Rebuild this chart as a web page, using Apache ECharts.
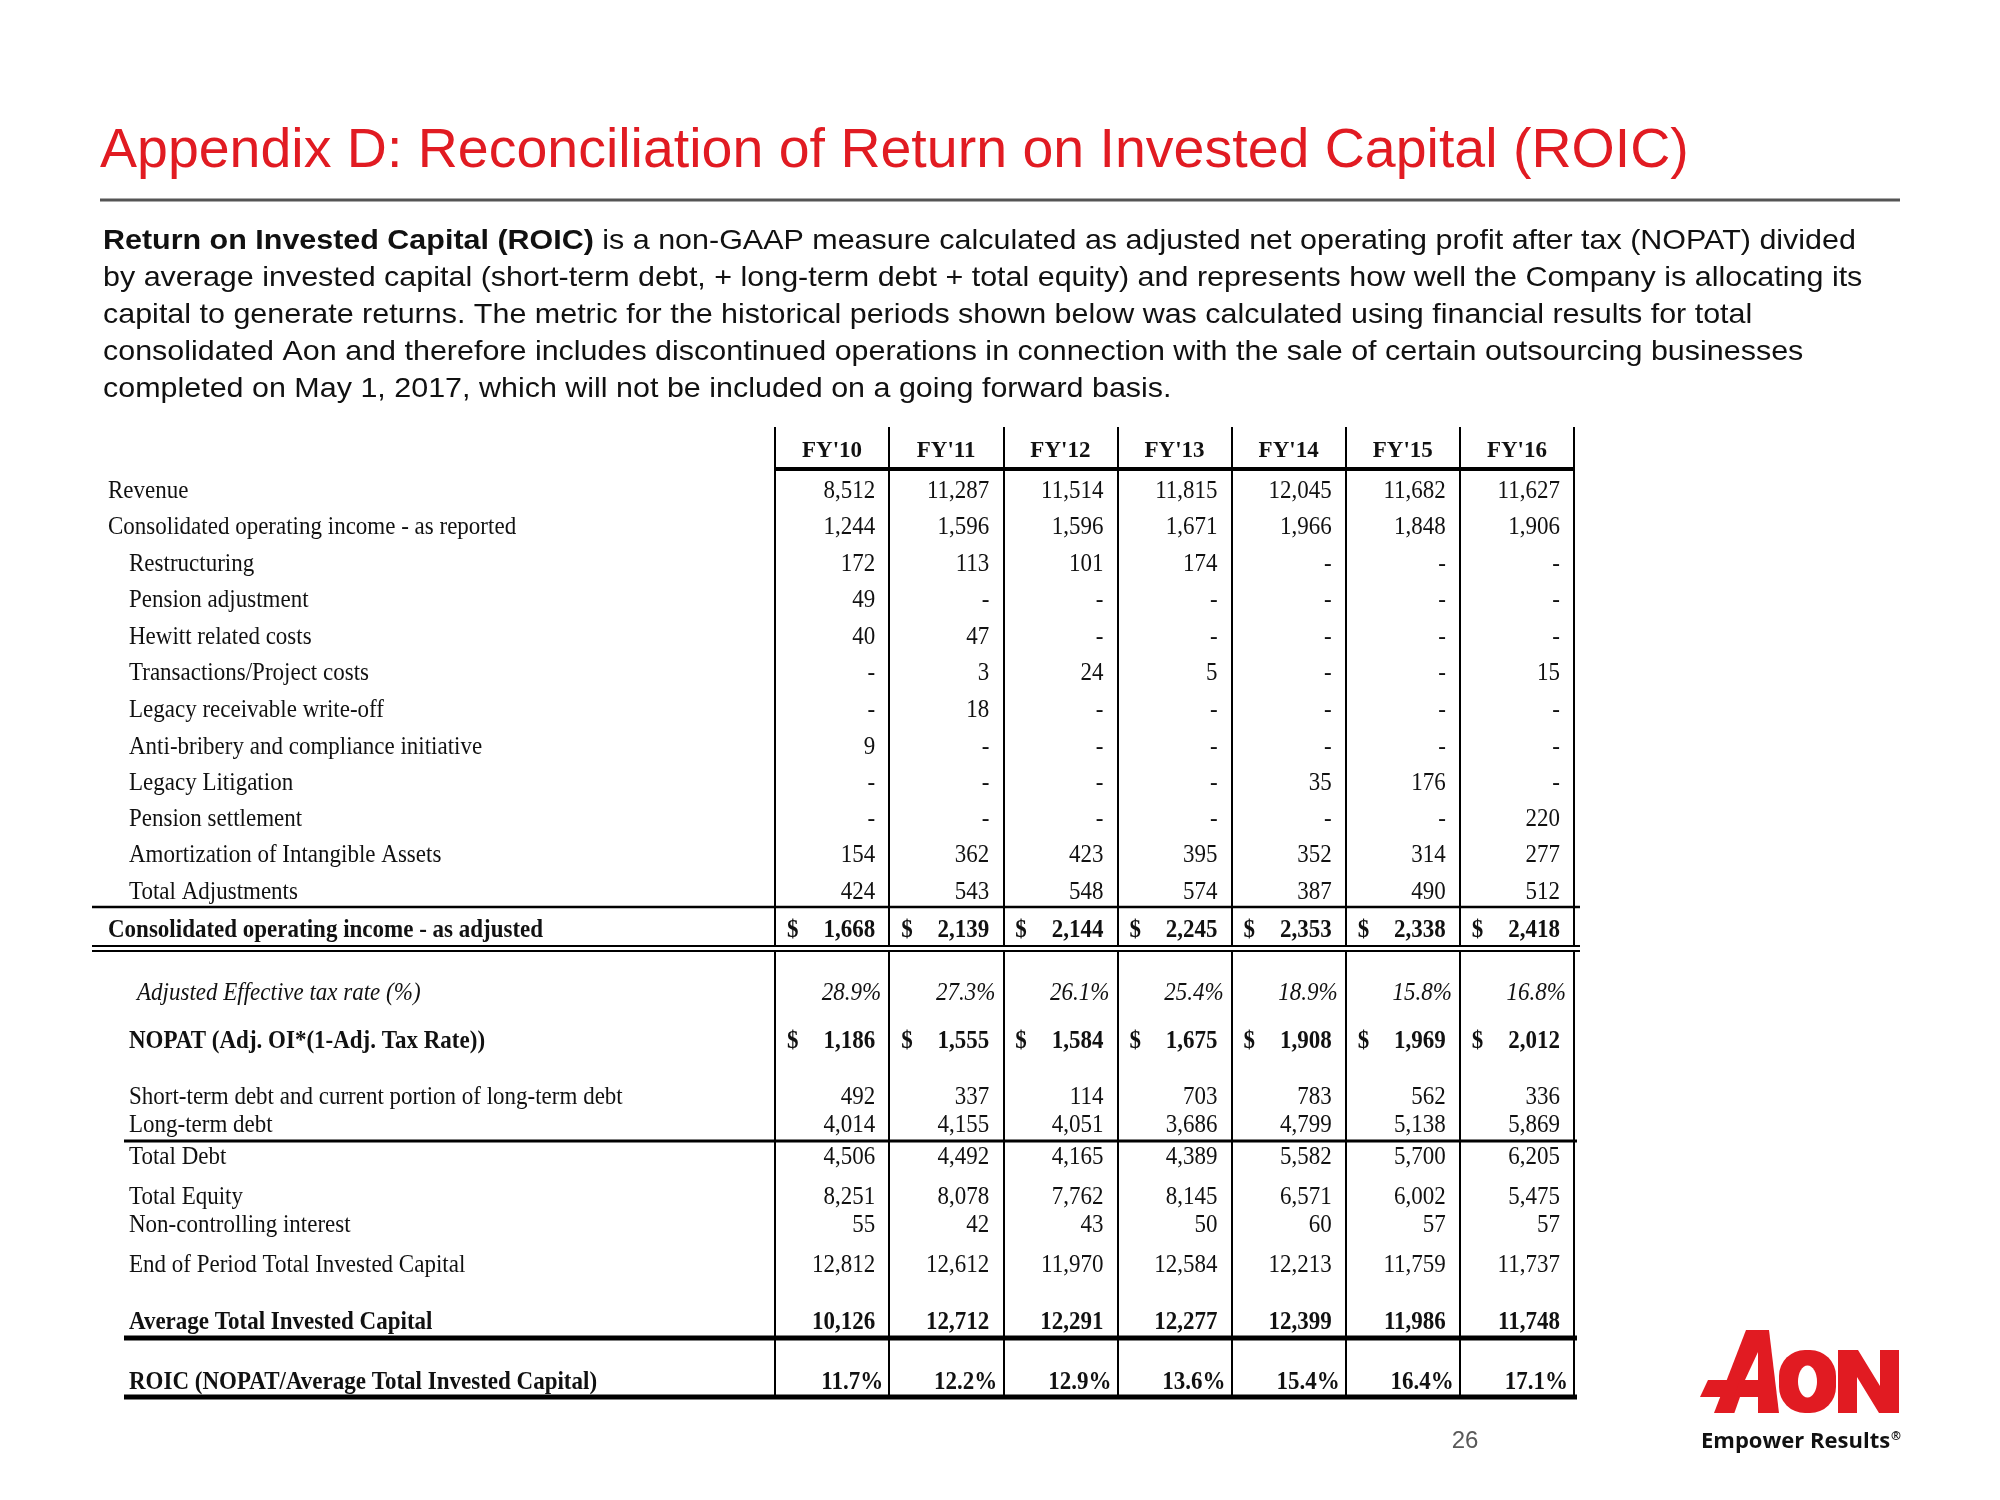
<!DOCTYPE html>
<html><head><meta charset="utf-8">
<script src="https://cdn.jsdelivr.net/npm/echarts@6/dist/echarts.min.js"></script>
<style>html,body{margin:0;padding:0;background:#fff}#c{width:2000px;height:1500px}</style>
</head><body><div id="c"></div>
<script>
// ---------------- DATA ----------------
const years = ["FY'10", "FY'11", "FY'12", "FY'13", "FY'14", "FY'15", "FY'16"];
const revenue            = [8512, 11287, 11514, 11815, 12045, 11682, 11627];
const coiReported        = [1244, 1596, 1596, 1671, 1966, 1848, 1906];
const restructuring      = [172, 113, 101, 174, null, null, null];
const pensionAdjustment  = [49, null, null, null, null, null, null];
const hewittCosts        = [40, 47, null, null, null, null, null];
const transactionCosts   = [null, 3, 24, 5, null, null, 15];
const legacyReceivable   = [null, 18, null, null, null, null, null];
const antiBribery        = [9, null, null, null, null, null, null];
const legacyLitigation   = [null, null, null, null, 35, 176, null];
const pensionSettlement  = [null, null, null, null, null, null, 220];
const amortization       = [154, 362, 423, 395, 352, 314, 277];
const totalAdjustments   = [424, 543, 548, 574, 387, 490, 512];
const coiAdjusted        = [1668, 2139, 2144, 2245, 2353, 2338, 2418];
const adjTaxRate         = [28.9, 27.3, 26.1, 25.4, 18.9, 15.8, 16.8];
const nopat              = [1186, 1555, 1584, 1675, 1908, 1969, 2012];
const shortTermDebt      = [492, 337, 114, 703, 783, 562, 336];
const longTermDebt       = [4014, 4155, 4051, 3686, 4799, 5138, 5869];
const totalDebt          = [4506, 4492, 4165, 4389, 5582, 5700, 6205];
const totalEquity        = [8251, 8078, 7762, 8145, 6571, 6002, 5475];
const nonControlling     = [55, 42, 43, 50, 60, 57, 57];
const endTotalInvCap     = [12812, 12612, 11970, 12584, 12213, 11759, 11737];
const avgTotalInvCap     = [10126, 12712, 12291, 12277, 12399, 11986, 11748];
const roic               = [11.7, 12.2, 12.9, 13.6, 15.4, 16.4, 17.1];

const rowLabels = [
  "Revenue",
  "Consolidated operating income - as reported",
  "Restructuring",
  "Pension adjustment",
  "Hewitt related costs",
  "Transactions/Project costs",
  "Legacy receivable write-off",
  "Anti-bribery and compliance initiative",
  "Legacy Litigation",
  "Pension settlement",
  "Amortization of Intangible Assets",
  "Total Adjustments",
  "Consolidated operating income - as adjusted",
  "Adjusted Effective tax rate (%)",
  "NOPAT (Adj. OI*(1-Adj. Tax Rate))",
  "Short-term debt and current portion of long-term debt",
  "Long-term debt",
  "Total Debt",
  "Total Equity",
  "Non-controlling interest",
  "End of Period Total Invested Capital",
  "Average Total Invested Capital",
  "ROIC (NOPAT/Average Total Invested Capital)"
];
const rowValues = [revenue, coiReported, restructuring, pensionAdjustment, hewittCosts,
  transactionCosts, legacyReceivable, antiBribery, legacyLitigation, pensionSettlement,
  amortization, totalAdjustments, coiAdjusted, adjTaxRate, nopat, shortTermDebt, longTermDebt,
  totalDebt, totalEquity, nonControlling, endTotalInvCap, avgTotalInvCap, roic];

// ---------------- LAYOUT / STYLE ----------------
// row centre positions along the (inverted) table axis
const ROW_POS = [64, 100, 137, 173, 210, 246, 283, 320, 356, 392, 428, 465, 504,
                 566, 615, 670, 698, 730, 770, 798, 838, 896, 956];
// row kind: n=number, d=bold with $, t=italic percent, b=bold number, p=bold percent
const ROW_KIND = ['n','n','n','n','n','n','n','n','n','n','n','n','d',
                  't','d','n','n','n','n','n','n','b','p'];
// label indent: 0 = flush, 1 = indented, 2 = italic indented
const ROW_INDENT = [0,0,1,1,1,1,1,1,1,1,1,1,0,2,1,1,1,1,1,1,1,1,1];
const LABEL_X = [-667, -646, -638];          // relative to table grid left
// rules: pos on table axis, left/right extension relative to grid edges, width
const RULES = [
  {pos: 42,  l: 0,    r: 0, w: 4},
  {pos: 480, l: -683, r: 6, w: 2.5},
  {gap: true, pos: 521.5, l: 0, r: 0, w: 4},
  {pos: 519, l: -683, r: 6, w: 2},
  {pos: 524, l: -683, r: 6, w: 2},
  {pos: 714, l: -651, r: 3, w: 3},
  {pos: 911, l: -651, r: 3, w: 5},
  {pos: 970, l: -651, r: 3, w: 5}
];
const SERIF = '"Liberation Serif", "Times New Roman", serif';
const SANS = '"Liberation Sans", Arial, sans-serif';
const FS = 23;
const SY = 1.08;
const TXT = '#111';

function fmt(v) {
  if (v === null || v === undefined) return '-';
  return v.toLocaleString('en-US');
}

const chart = echarts.init(document.getElementById('c'), null, {renderer: 'canvas'});

function txt(text, x, y, align, bold, italic) {
  return {
    type: 'text', x: x, y: y, scaleY: SY,
    style: {
      text: text, x: 0, y: 0, fontFamily: SERIF, fontSize: FS,
      fontWeight: bold ? 'bold' : 'normal', fontStyle: italic ? 'italic' : 'normal',
      fill: TXT, align: align, verticalAlign: 'middle'
    }
  };
}

function renderRow(params, api) {
  const i = api.value(2);
  const pos = api.value(1);
  const y = api.coord([0, pos])[1];
  const bw = api.size([1, 0])[0];
  const gl = api.coord([0, pos])[0] - bw / 2;
  const kind = ROW_KIND[i];
  const bold = (kind === 'd' || kind === 'b' || kind === 'p');
  const italic = (kind === 't');
  const children = [txt(rowLabels[i], gl + LABEL_X[ROW_INDENT[i]], y, 'left', bold, italic)];
  const vals = rowValues[i];
  for (let c = 0; c < vals.length; c++) {
    const cx = api.coord([c, pos])[0];
    const right = cx + bw / 2;
    const left = cx - bw / 2;
    let text, rx = right - 14;
    if (kind === 't' || kind === 'p') {
      text = vals[c].toFixed(1) + '%';
      rx = right - (kind === 't' ? 8 : 6);
    } else {
      text = fmt(vals[c]);
    }
    children.push(txt(text, rx, y, 'right', bold, italic));
    if (kind === 'd') children.push(txt('$', left + 12, y, 'left', true, false));
  }
  return {type: 'group', children: children};
}

function renderRule(params, api) {
  const r = RULES[params.dataIndex];
  const pos = api.value(1);
  const y = api.coord([0, pos])[1];
  const bw = api.size([1, 0])[0];
  const gl = api.coord([0, pos])[0] - bw / 2;
  const gr = api.coord([years.length - 1, pos])[0] + bw / 2;
  if (r.gap) {
    return {type: 'rect', shape: {x: gl - 2, y: y - r.w / 2, width: gr - gl + 4, height: r.w},
            style: {fill: '#fff'}};
  }
  return {type: 'line', shape: {x1: gl + r.l, y1: y, x2: gr + r.r, y2: y},
          style: {stroke: '#000', lineWidth: r.w}};
}

const paraLines = [
  '{b|Return on Invested Capital (ROIC)} is a non-GAAP measure calculated as adjusted net operating profit after tax (NOPAT) divided',
  'by average invested capital (short-term debt, + long-term debt + total equity) and represents how well the Company is allocating its',
  'capital to generate returns. The metric for the historical periods shown below was calculated using financial results for total',
  'consolidated Aon and therefore includes discontinued operations in connection with the sale of certain outsourcing businesses',
  'completed on May 1, 2017, which will not be included on a going forward basis.'
];
const paraY = [241, 278, 315, 352, 389];

const RED = '#e11b22';
const graphics = [
  {type: 'text', x: 100, y: 152, style: {text: 'Appendix D: Reconciliation of Return on Invested Capital (ROIC)',
    fontFamily: SANS, fontSize: 55.5, fill: RED, align: 'left', verticalAlign: 'middle'}},
  {type: 'line', shape: {x1: 100, y1: 200, x2: 1900, y2: 200}, style: {stroke: '#555', lineWidth: 3}},
  {type: 'text', x: 1465, y: 1441, style: {text: '26', fontFamily: SANS, fontSize: 24, fill: '#595959',
    align: 'center', verticalAlign: 'middle'}},
  // Aon logo
  {type: 'polygon', shape: {points: [[1746,1330],[1769,1330],[1779,1413],[1714,1413]]}, style: {fill: RED}},
  {type: 'polygon', shape: {points: [[1708,1380],[1740,1380],[1734,1397],[1700,1397]]}, style: {fill: RED}},
  {type: 'polygon', shape: {points: [[1758,1352],[1758,1380],[1745,1380]]}, style: {fill: '#fff'}},
  {type: 'polygon', shape: {points: [[1740,1397],[1758,1397],[1758,1414],[1734,1414]]}, style: {fill: '#fff'}},
  {type: 'rect', shape: {x: 1779, y: 1350, width: 57, height: 63, r: 26}, style: {fill: RED}},
  {type: 'ellipse', shape: {cx: 1807.5, cy: 1381.5, rx: 9.5, ry: 16}, style: {fill: '#fff'}},
  {type: 'polygon', shape: {points: [[1838,1350],[1858,1350],[1880,1386],[1880,1350],[1899,1350],
    [1899,1413],[1879,1413],[1857,1377],[1857,1413],[1838,1413]]}, style: {fill: RED}},
  {type: 'text', x: 1701, y: 1442, style: {text: '{m|Empower Results}{r|®}',
    rich: {m: {fontFamily: '"Open Sans", "Noto Sans", sans-serif', fontWeight: 'bold', fontSize: 22, fill: '#111'},
           r: {fontFamily: '"Open Sans", sans-serif', fontWeight: 'bold', fontSize: 12, fill: '#111', padding: [0,0,10,1]}},
    align: 'left', verticalAlign: 'middle'}}
];
paraLines.forEach((t, k) => {
  graphics.push({type: 'text', x: 103, y: paraY[k], scaleX: 1.088, style: {text: t,
    fontFamily: SANS, fontSize: 28, fill: '#111',
    rich: {b: {fontFamily: SANS, fontSize: 28, fontWeight: 'bold', fill: '#111'}},
    align: 'left', verticalAlign: 'middle'}});
});

chart.setOption({
  animation: false,
  backgroundColor: '#fff',
  grid: {left: 775, right: 426, top: 427, bottom: 102},
  xAxis: {
    type: 'category', data: years, position: 'top', boundaryGap: true,
    axisLine: {show: false}, axisTick: {show: false},
    axisLabel: {inside: true, margin: 24, interval: 0, fontFamily: SERIF, fontWeight: 'bold',
      fontSize: FS, color: TXT, verticalAlign: 'middle'},
    splitLine: {show: true, interval: 0, lineStyle: {color: '#000', width: 2}}
  },
  yAxis: {type: 'value', inverse: true, min: 0, max: 971, show: false},
  series: [
    {type: 'custom', name: 'rules', clip: false, silent: true, z: 3,
     data: RULES.map(r => [0, r.pos]), encode: {x: 0, y: 1}, renderItem: renderRule},
    {type: 'custom', name: 'rows', clip: false, silent: true, z: 4,
     data: rowLabels.map((l, i) => [0, ROW_POS[i], i]), encode: {x: 0, y: 1}, renderItem: renderRow}
  ],
  graphic: graphics
});
</script>
</body></html>
